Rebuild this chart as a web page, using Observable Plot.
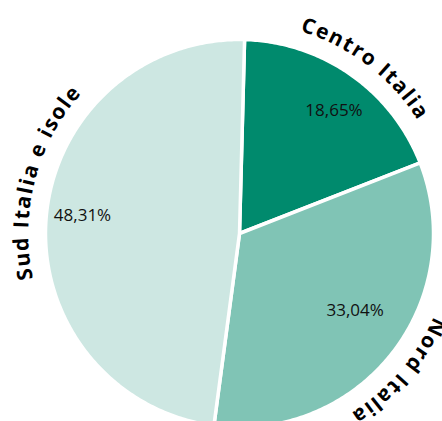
<!DOCTYPE html>
<html>
<head>
<meta charset="utf-8">
<script src="https://cdn.jsdelivr.net/npm/d3@7"></script>
<script src="https://cdn.jsdelivr.net/npm/@observablehq/plot@0.6"></script>
<style>
  html, body { margin: 0; padding: 0; background: #fff; }
  #chart { width: 442px; height: 421px; overflow: hidden; }
</style>
</head>
<body>
<div id="chart"></div>
<script>
// ---- data ----
const categories = ["Centro Italia", "Nord Italia", "Sud Italia e isole"];
const shares = [18.65, 33.04, 48.31];
const valueLabels = ["18,65%", "33,04%", "48,31%"];
const colors = ["#008a6d", "#80c4b5", "#cde7e2"];

// ---- layout ----
const W = 442, H = 421;
const cx = 239, cy = 233;          // pie centre in pixels
const R = 194;                      // pie radius
const rText = 218;                  // radius for curved category labels
const startDeg = 1.5;               // rotation of first slice
const labelShiftDeg = [2, 2.5, 10]; // angular nudges of curved labels
const valueShiftDeg = [2.5, -4.4, 1.9]; // angular nudges of value labels
const valueRadius = [155, 139, 158];
const catSize = 21;
const catFont = `bold ${catSize}px 'Open Sans'`;
const catSpacing = 2;

const toRad = d => d * Math.PI / 180;
const pie = d3.pie().sort(null)
  .startAngle(toRad(startDeg)).endAngle(toRad(startDeg) + 2 * Math.PI)(shares);

// slice polygons
const slicePts = [];
pie.forEach((p, i) => {
  const key = categories[i];
  slicePts.push({key, x: 0, y: 0});
  const n = Math.max(8, Math.ceil((p.endAngle - p.startAngle) * 90));
  for (let k = 0; k <= n; k++) {
    const a = p.startAngle + (p.endAngle - p.startAngle) * k / n;
    slicePts.push({key, x: R * Math.sin(a), y: -R * Math.cos(a)});
  }
  slicePts.push({key, x: 0, y: 0});
});

// value labels
const valuePts = pie.map((p, i) => {
  const a = (p.startAngle + p.endAngle) / 2 + toRad(valueShiftDeg[i]);
  const r = valueRadius[i];
  return {label: valueLabels[i], x: r * Math.sin(a), y: -r * Math.cos(a)};
});

// curved category labels: one text per character
const ctx = document.createElement("canvas").getContext("2d");
ctx.font = catFont;
const charPts = [];
pie.forEach((p, i) => {
  const txt = categories[i];
  const chars = [...txt];
  const widths = chars.map(c => ctx.measureText(c).width);
  const L = d3.sum(widths) + catSpacing * (chars.length - 1);
  const mid = (p.startAngle + p.endAngle) / 2 + toRad(labelShiftDeg[i]);
  const a0 = mid - (L / rText) / 2;
  let s = 0;
  chars.forEach((c, j) => {
    const a = a0 + (s + widths[j] / 2) / rText;
    s += widths[j] + catSpacing;
    if (c === " ") return;
    charPts.push({c, x: rText * Math.sin(a), y: -rText * Math.cos(a), rot: a * 180 / Math.PI});
  });
});

const chart = Plot.plot({
  width: W,
  height: H,
  margin: 0,
  x: {domain: [-cx, W - cx], range: [0, W], axis: null},
  y: {domain: [-cy, H - cy], range: [0, H], axis: null},
  color: {domain: categories, range: colors},
  style: {background: "#fff"},
  marks: [
    Plot.line(slicePts, {x: "x", y: "y", z: "key", fill: "key", stroke: "#fff",
      strokeWidth: 3.5, strokeLinejoin: "round", curve: "linear"}),
    Plot.text(valuePts, {x: "x", y: "y", text: "label", fill: "#111",
      fontSize: 17, fontFamily: "'Open Sans', sans-serif", textAnchor: "middle", lineAnchor: "middle"}),
    Plot.text(charPts, {x: "x", y: "y", text: "c", rotate: "rot", fill: "#000",
      fontSize: catSize, fontWeight: "bold", fontFamily: "'Open Sans', sans-serif",
      textAnchor: "middle", lineAnchor: "middle"})
  ]
});
document.getElementById("chart").appendChild(chart);
</script>
</body>
</html>
